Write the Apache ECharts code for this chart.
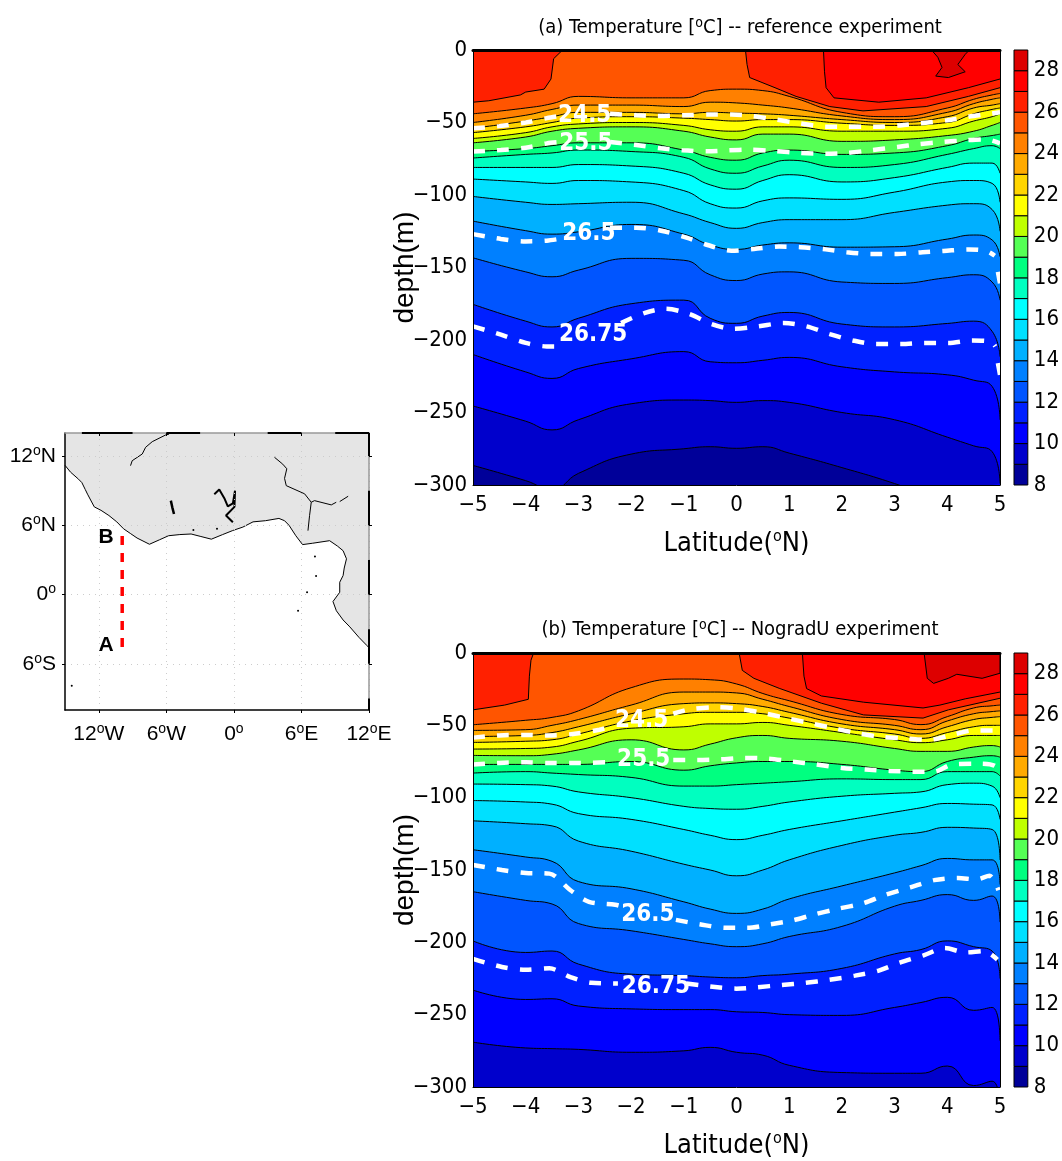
<!DOCTYPE html>
<html>
<head>
<meta charset="utf-8">
<title>Temperature sections</title>
<script src="https://cdn.jsdelivr.net/npm/echarts@6/dist/echarts.min.js"></script>
<style>
html, body { margin: 0; padding: 0; background: #fff; }
#chart { width: 1062px; height: 1161px; }
</style>
</head>
<body>
<div id="chart"></div>
<script>
// colour of each 1 degree band, 8-9 up to 28-29
const bandColors = ['#000099', '#0000cc', '#0000ff', '#0020ff', '#0055ff', '#0080ff', '#00b0ff', '#00e0ff', '#00ffff', '#00ffc0', '#00ff80',
  '#55ff55', '#bfff00', '#ffff00', '#ffd500', '#ffaa00', '#ff8000', '#ff5500', '#ff2000', '#ff0000', '#dd0000']
const latTicks = [-5, -4, -3, -2, -1, 0, 1, 2, 3, 4, 5]

// panel (a): isotherm depth (m) at each latitude
const latsA = [-5, -4, -3.5, -3, -2, -1, -0.5, 0, 0.5, 1, 2, 3, 4, 4.5, 4.85, 5]
const a25 = [-44, -40, -37, -32, -33, -33, -28, -27, -28, -32, -43, -46, -40, -34, -31, -30]
const a24 = [-50, -45, -41, -38, -38, -39, -36, -36.5, -38, -40, -45.5, -48, -43, -37, -34, -33]
const a23 = [-54, -49, -46, -43, -43, -44, -43, -43.5, -44, -45, -48, -50, -46, -40, -38, -37]
const a22 = [-57, -53, -50, -47, -46, -47, -48, -49, -48, -48, -50.5, -52, -50, -44, -41, -40]
const a21 = [-61, -57, -53, -51, -50, -52, -55, -56, -53, -53, -56, -56, -54, -49, -46, -44]
const a20 = [-64, -60, -56, -54, -53, -56, -60, -62, -58, -58, -63, -62, -59, -56, -52, -50]
const a19 = [-70, -68, -66, -64, -64, -69, -74, -76, -71, -69, -72, -71, -66, -61, -59, -58]
const a18 = [-74.5, -72, -71, -69, -70, -74, -82, -85, -80, -76, -81, -79, -72, -68, -66, -68]
const a17 = [-81, -81, -81, -79, -80, -85, -93, -96, -90, -86, -91, -88, -81, -78, -78, -85]
const a16 = [-89, -91, -92, -90, -91, -97, -106, -109, -104, -102, -103, -98, -91, -90, -92, -105]
const a15 = [-101, -105, -106.5, -106, -105, -113, -119, -123, -119, -117, -117, -112, -107, -106, -110, -125]
const a14 = [-118, -124.6, -127, -125.4, -120.3, -127, -134.5, -137.5, -134.5, -133, -136, -135.7, -130.4, -127.6, -131, -142.6]
const a13 = [-143.3, -153, -156.4, -151.8, -143.7, -145, -155, -159, -154.5, -153, -160, -161, -157, -155, -160, -172.5]
const a12 = [-175.4, -187, -191, -185, -175, -172.5, -185, -188.5, -183.5, -181, -189, -191, -188.6, -187, -194, -211.5]
const a11 = [-210, -222, -226.5, -219.7, -213, -208, -215, -215.7, -214, -212, -218.5, -222, -224, -227.7, -232, -255]
const a10 = [-245.5, -256, -262, -255, -244, -241.4, -241.8, -243, -241.8, -243, -250, -255, -267, -273, -277, -299]
const a9 = [-286.5, -297, -303, -292, -278.7, -275, -273.6, -274.7, -273.6, -278, -288, -299, -312, -320, -325, -330]
// these reach the surface, so they carry their own latitudes
const a27 = [[-5, 0], [1.65, 0], [1.67, -15], [1.7, -26], [1.85, -33], [2.7, -36], [3.6, -33], [4.4, -26], [5, -20]]
const a26 = [[-5, -36], [-4.7, -35], [-4.1, -31], [-4, -29], [-3.65, -27], [-3.52, -20], [-3.47, -6], [-3.3, 0], [0.17, 0], [0.2, -10], [0.25, -19],
  [0.73, -26], [1.13, -32], [1.77, -39], [2.4, -42], [3.6, -39], [4.4, -32], [5, -26]]
const a28patch = [[3.7, 0], [3.82, -5], [3.9, -12], [3.78, -18], [4.02, -19], [4.34, -15], [4.2, -10], [4.34, -3], [4.42, 0]]

// panel (a): white density contours, null leaves the gap under the label
const a245 = [[-5, -54], [-4.5, -52.5], [-4, -50], [-3.6, -47], [-3.35, -45.5], null, [-2.4, -44], [-1.9, -45], [-1.5, -45.5], [-1, -45], [-0.5, -44.5], [-0.1, -44.5],
  [0.3, -45.5], [0.75, -48], [1.2, -50.5], [1.7, -53], [2.1, -53], [2.6, -53], [3.1, -52], [3.5, -50.5], [4, -48.5], [4.4, -46], [4.8, -44], [5, -43]]
const a255 = [[-5, -70], [-4.47, -69], [-4, -67.4], [-3.6, -64.4], [-3.35, -63.5], null, [-2.4, -63.4], [-1.9, -65.5], [-1.43, -67.8], [-1.03, -69.2], [-0.55, -69.9], [-0.15, -69.2],
  [0.25, -68.7], [0.73, -69.7], [1.21, -71], [1.69, -71.5], [2.09, -71], [2.57, -69], [3.05, -66.9], [3.45, -65], [3.93, -63.4], [4.33, -62.3], [4.74, -61.6], [5, -64.4]]
const a265 = [[-5, -127], [-4.47, -130.3], [-4, -132], [-3.6, -131.5], [-3.3, -129.9], null, [-2.4, -122.5], [-1.9, -122.5], [-1.43, -124.6], [-0.95, -129.4], [-0.55, -134.5], [-0.1, -138.4],
  [0.33, -137.3], [0.81, -135.6], [1.21, -136], [1.69, -137.5], [2.09, -139.5], [2.57, -140.7], [3.05, -140.7], [3.53, -139.5], [3.93, -138.6], [4.41, -137.5], [4.74, -138.6], [4.9, -141.9], null, [4.96, -153], [5, -161]]
const a2675 = [[-5, -190.6], [-4.47, -196.3], [-4, -202], [-3.6, -204.4], [-3.31, -204.4], null, [-2.19, -188.3], [-1.75, -181.4], [-1.35, -178.5], [-0.91, -181.9], [-0.47, -189], [-0.07, -192.3],
  [0.41, -190.6], [0.89, -188.3], [1.33, -190.6], [1.77, -195.9], [2.21, -200.3], [2.65, -202.8], [3.13, -202.8], [3.57, -202], [4.02, -202], [4.46, -200.3], [4.82, -201], [4.91, -204.4], null, [4.96, -215.9], [5, -224]]
const aLabels = [[-2.88, -45.5, '24.5'], [-2.86, -65, '25.5'], [-2.8, -127, '26.5'], [-2.72, -196.6, '26.75']]

// panel (b)
const latsB = [-5, -4, -3.5, -3, -2, -1, -0.5, 0, 0.5, 1, 2, 3, 3.5, 4, 4.5, 4.85, 5]
const b25 = [-49.6, -46.5, -44.5, -40, -24, -18, -18.5, -21.4, -28, -33, -42.5, -46, -49.5, -44, -38, -36.5, -36]
const b24 = [-53.5, -53, -50, -46, -36, -27, -27, -27.6, -32, -37, -46, -50, -53, -47, -42, -40.5, -40]
const b23 = [-57.7, -57, -55, -51, -42, -35, -34.5, -35, -37, -41, -49, -53, -56, -51, -46, -44.5, -44]
const b22 = [-61.8, -61, -60, -56, -47, -42, -41, -41, -42, -45, -52, -56, -59, -55, -51, -50, -50]
const b21 = [-66.4, -66, -65, -61, -52, -51, -49, -49, -48, -50, -55, -60, -62, -60, -57, -57, -57]
const b20 = [-70.8, -71, -70, -67, -60, -67, -63, -58.6, -57, -59, -61, -66, -68, -68, -65, -64, -65]
const b19 = [-77, -77, -77, -77, -75, -81, -78, -76, -75, -75, -77, -81, -82, -75, -72, -71, -72]
const b18 = [-83, -82, -83, -84, -86, -92, -92, -91, -90, -89, -87, -87.5, -87.5, -82, -82, -82, -85]
const b17 = [-90.6, -91, -92, -96, -100, -106, -107.5, -108, -106, -103, -99, -97, -96, -91, -90, -92, -100]
const b16 = [-102, -103, -104.5, -111, -115, -122, -126, -129, -126, -122, -116, -110, -107, -104, -104.5, -105, -115]
const b15 = [-116, -118, -119.5, -130, -137, -146, -150, -154, -150, -143, -133, -126, -124, -120.5, -121, -122, -143]
const b14 = [-136, -141, -144, -158, -163, -172, -177, -180, -177, -170, -161, -152, -147, -142, -143, -143, -160]
const b13 = [-165, -171, -173.5, -187, -192, -198, -201, -203, -201, -196, -189, -175, -171, -167, -171, -168, -186]
const b12 = [-199, -207, -206, -215, -222, -223, -224, -224.5, -223, -222, -218, -208, -205, -199, -203, -206, -225]
const b11 = [-233, -239.5, -239, -244, -246, -246.5, -246.5, -248, -248.5, -250, -250.5, -245, -241.6, -238, -247, -245, -268]
const b10 = [-269, -273, -273.5, -274, -276, -275, -272.6, -276, -278, -285, -290, -290.5, -290.5, -285.5, -299, -296, -315]
const b27 = [[-5, 0], [1.25, 0], [1.28, -16], [1.33, -24.6], [1.61, -29.7], [2.41, -34], [3.54, -38], [3.86, -36], [4.34, -31.7], [5, -27]]
const b26 = [[-5, -39.3], [-4.4, -36], [-3.95, -32], [-3.93, -16], [-3.9, -5], [-3.85, 0], [0.05, 0], [0.11, -12], [0.33, -17.5], [0.81, -24.4], [1.61, -34.7],
  [2.41, -42.8], [3.54, -45], [4.02, -39.3], [5, -31.3]]
const b28patch = [[3.56, 0], [3.62, -17.5], [3.74, -21], [4.02, -17.5], [4.18, -14.7], [4.66, -17.5], [5, -14], [5, 0]]

const b245 = [[-5, -58.5], [-4.5, -57], [-4, -56.6], [-3.6, -57], [-3.1, -56], [-2.6, -53], [-2.35, -50.5], null, [-1.2, -42], [-0.9, -39], [-0.4, -37.5], [0.05, -38.5],
  [0.5, -41.5], [0.95, -45], [1.4, -48.5], [1.85, -52], [2.3, -55.5], [2.75, -58], [3.2, -59], [3.65, -60], [4.05, -57], [4.5, -53.5], [5, -53.5]]
const b255 = [[-5, -77], [-4.5, -76], [-4, -75.5], [-3.55, -76], [-3, -76], [-2.45, -75.5], null, [-1.2, -74], [-0.75, -74], [-0.3, -73.5], [0.15, -72.5], [0.6, -73], [1.05, -75], [1.5, -77],
  [2, -79.5], [2.45, -80.5], [2.9, -81.5], [3.35, -82], [3.75, -82], [4.1, -77], [4.6, -76.5], [4.9, -78], [5, -84]]
const b265 = [[-5, -146.5], [-4.45, -150], [-4, -152], [-3.55, -152.5], [-3.15, -164], [-2.8, -172], [-2.3, -174], [-2.1, -176], null, [-1.15, -184.5], [-0.7, -187.5], [-0.2, -190], [0.2, -190],
  [0.65, -187.5], [1.05, -185], [1.45, -181], [1.9, -177], [2.4, -173], [2.8, -167.5], [3.3, -162], [3.75, -157], [4.2, -155.5], [4.55, -156.5], [4.8, -154], [4.97, -164], null, [5, -176]]
const b2675 = [[-5, -211.5], [-4.45, -217], [-4, -219], [-3.55, -218], [-3.15, -224], [-2.75, -228], [-2.25, -228.5], null, [-0.95, -228.5], [-0.5, -230.5], [0, -232], [0.4, -231], [0.85, -229.5], [1.3, -228],
  [1.75, -226], [2.25, -223], [2.7, -219.5], [3.1, -214], [3.55, -209], [3.95, -204], [4.35, -207], [4.7, -206], [4.95, -212], null, [5, -229]]
const bLabels = [[-1.8, -47, '24.5'], [-1.76, -74, '25.5'], [-1.68, -181, '26.5'], [-1.53, -231, '26.75']]

// map inset, lon/lat in degrees
const mapLonTicks = [-12, -6, 0, 6, 12]
const mapLatTicks = [-6, 0, 6, 12]
const coast = [[-15, 11.2], [-14.9, 11.1], [-14.5, 10.6], [-13.8, 10], [-13.5, 9.7], [-13.2, 9.1], [-13, 8.7], [-12.4, 7.6], [-11.8, 7.3], [-11.1, 6.85], [-10.4, 6.3], [-9.8, 5.7], [-9.2, 5.3], [-8.6, 4.9], [-7.5, 4.36],
  [-6.6, 4.75], [-5.8, 5.1], [-4.8, 5.2], [-3.8, 5.25], [-3, 5.05], [-2, 4.8], [-1, 5.2], [-0.1, 5.55], [0.8, 5.85], [1.7, 6.3], [2.8, 6.4], [4, 6.6], [4.5, 6.4], [4.9, 6], [5.5, 5.1],
  [6.1, 4.33], [7, 4.45], [8.5, 4.67], [9.2, 4.2], [9.7, 3.8], [10, 3.1], [9.8, 2.3], [9.7, 1.65], [9.4, 1.07], [9.4, 0.2], [8.8, -0.6], [9.1, -1.4], [9.7, -2.2], [10.3, -2.8], [11.1, -3.7], [11.8, -4.4], [12, -4.6]]
const landCorners = [[12, 14], [-15, 14]]
const riverNigerUp = [[-9.18, 11.17], [-9.03, 11.6], [-8.14, 12.18], [-7.84, 12.76], [-7.25, 13.25], [-6.06, 13.83], [-5.76, 13.9]]
const riverNiger = [[3.6, 11.9], [4.34, 11.3], [4.7, 10.9], [4.5, 10.07], [4.65, 9.44], [6.28, 8.73], [6.87, 8], [6.72, 6.84], [6.58, 5.54]]
const riverBenue = [[6.87, 8], [7.16, 8.14], [8.65, 7.77], [9.09, 8]]
const riverBenueUp = [[9.4, 8.06], [10.15, 8.52]]
const lakeVolta = [[-1.74, 8.7], [-1.3, 9.1], [-0.85, 8.35], [-0.54, 7.65], [-0.09, 7.9], [0.1, 9], [0.05, 7.6], [-0.7, 6.85], [-0.09, 6.27]]
const lakeKossou = [[-5.6, 8.14], [-5.47, 7.56], [-5.32, 6.98]]
const islands = [[-14.4, -7.9], [7.2, 3.3], [6.5, 0.2], [7.3, 1.6], [5.7, -1.4], [-1.5, 5.7], [-3.6, 5.6]]
const frameTop = [[-13.5, 14], [-9, 14], null, [-6, 14], [-3, 14], null, [3, 14], [6, 14], null, [9, 14], [12, 14]]
const frameRight = [[12, 14], [12, 12], null, [12, 9], [12, 6], null, [12, 3], [12, 0], null, [12, -3], [12, -6], null, [12, -9], [12, -10]]
const sectionLine = [[-9.92, 5.08], [-9.92, -5]]
const sectionLabels = [[-9.92, 5, 'B'], [-9.92, -4.4, 'A']]

const narrow = '"DejaVu Sans Condensed", "Liberation Sans", sans-serif'
const wide = '"Liberation Sans", sans-serif'
const sup = { fontSize: 14, verticalAlign: 'top', lineHeight: 24 }

function rowPoints(lats, row) {
  return lats.map((x, i) => [x, row[i]])
}

function gapped(line) {
  return line.map(p => p || [null, null])
}

function minus(v) {
  return String(v).replace('-', '\u2212')
}

const option = {
  animation: false,
  backgroundColor: '#fff',
  title: [
    { text: '(a) Temperature [{s|o}C] -- reference experiment', left: 735, top: 11, textAlign: 'center',
      textStyle: { fontFamily: narrow, fontSize: 20, fontWeight: 'normal', color: '#000', rich: { s: sup } } },
    { text: '(b) Temperature [{s|o}C] -- NogradU experiment', left: 735, top: 613, textAlign: 'center',
      textStyle: { fontFamily: narrow, fontSize: 20, fontWeight: 'normal', color: '#000', rich: { s: sup } } }
  ],
  grid: [
    { left: 473, top: 50, width: 527, height: 435, backgroundColor: bandColors[19], show: true, borderWidth: 0 },
    { left: 473, top: 653, width: 527, height: 434, backgroundColor: bandColors[19], show: true, borderWidth: 0 },
    { left: 1014, top: 50, width: 17, height: 435 },
    { left: 1014, top: 653, width: 17, height: 434 },
    { left: 65, top: 433, width: 304, height: 277 }
  ],
  xAxis: [],
  yAxis: [],
  series: []
}

function addPanel(gridIndex, rows, lats, paths, patch, densLines, labels) {
  const xi = option.xAxis.length
  const yi = option.yAxis.length
  option.xAxis.push({
    gridIndex, type: 'value', min: -5, max: 5, interval: 1, z: 5,
    axisLine: { onZero: false, lineStyle: { color: '#000', width: 1 } },
    axisTick: { show: false }, splitLine: { show: false },
    axisLabel: { customValues: latTicks, fontFamily: narrow, fontSize: 22, color: '#000', margin: 9, formatter: minus },
    name: 'Latitude({s|o}N)', nameLocation: 'middle', nameGap: 44, nameMoveOverlap: false,
    nameTextStyle: { fontFamily: narrow, fontSize: 27, color: '#000', rich: { s: { fontSize: 16, verticalAlign: 'top', lineHeight: 30 } } }
  }, {
    gridIndex, type: 'value', min: -5, max: 5, position: 'top', z: 5,
    axisLine: { onZero: false, lineStyle: { color: '#000', width: 3 } },
    axisTick: { show: false }, axisLabel: { show: false }, splitLine: { show: false }
  })
  option.yAxis.push({
    gridIndex, type: 'value', min: -300, max: 0, interval: 50, z: 5,
    axisLine: { onZero: false, lineStyle: { color: '#000', width: 1 } },
    axisTick: { show: false }, splitLine: { show: false },
    axisLabel: { fontFamily: narrow, fontSize: 22, color: '#000', margin: 6, formatter: minus },
    name: 'depth(m)', nameLocation: 'middle', nameGap: 54, nameRotate: 90, nameMoveOverlap: false,
    nameTextStyle: { fontFamily: wide, fontSize: 28, color: '#000' }
  }, {
    gridIndex, type: 'value', min: -300, max: 0, position: 'right', z: 5,
    axisLine: { onZero: false, lineStyle: { color: '#000', width: 1 } },
    axisTick: { show: false }, axisLabel: { show: false }, splitLine: { show: false }
  })

  // warmest first, each isotherm paints its band all the way down
  paths.concat(rows.map(r => [r[0], rowPoints(lats, r[1]), true])).forEach(p => {
    option.series.push({
      type: 'line', xAxisIndex: xi, yAxisIndex: yi, data: p[1], showSymbol: false, silent: true,
      smooth: p[2] ? 0.5 : false,
      lineStyle: { color: '#000', width: 1 },
      areaStyle: { color: bandColors[p[0] - 9], opacity: 1, origin: 'start' }
    })
  })
  option.series.push({
    type: 'custom', xAxisIndex: xi, yAxisIndex: yi, data: [0], silent: true, z: 3,
    renderItem: (params, api) => ({
      type: 'polygon',
      shape: { points: patch.map(pt => api.coord(pt)) },
      style: { fill: bandColors[20], stroke: '#000', lineWidth: 1 }
    })
  })
  densLines.forEach(line => {
    option.series.push({
      type: 'line', xAxisIndex: xi, yAxisIndex: yi, data: gapped(line), showSymbol: false, silent: true, z: 4, smooth: 0.3,
      lineStyle: { color: '#fff', width: 4.5, type: [12, 12] }
    })
  })
  option.series.push({
    type: 'scatter', xAxisIndex: xi, yAxisIndex: yi, data: labels, symbolSize: 1, silent: true, z: 4,
    itemStyle: { color: 'transparent', opacity: 1 },
    label: { show: true, position: 'inside', formatter: p => p.value[2], fontFamily: narrow, fontWeight: 'bold', fontSize: 24, color: '#fff' }
  })
}

function addColorbar(gridIndex) {
  const xi = option.xAxis.length
  const yi = option.yAxis.length
  option.xAxis.push({ gridIndex, type: 'value', min: 0, max: 1, show: false })
  option.yAxis.push({
    gridIndex, type: 'value', min: 8, max: 29, interval: 2, position: 'right',
    axisLine: { show: false }, axisTick: { show: false }, splitLine: { show: false },
    axisLabel: { fontFamily: narrow, fontSize: 22, color: '#000', margin: 6 }
  })
  option.series.push({
    type: 'custom', xAxisIndex: xi, yAxisIndex: yi, silent: true,
    data: bandColors.map((c, i) => [8 + i]),
    renderItem: (params, api) => {
      const t = api.value(0)
      const a = api.coord([0, t + 1])
      const b = api.coord([1, t])
      return {
        type: 'rect',
        shape: { x: a[0], y: a[1], width: b[0] - a[0], height: b[1] - a[1] },
        style: { fill: bandColors[t - 8], stroke: '#000', lineWidth: 1 }
      }
    }
  })
}

function lonLabel(v) {
  return v === 0 ? '0{s|o}' : Math.abs(v) + '{s|o}' + (v < 0 ? 'W' : 'E')
}

function latLabel(v) {
  return v === 0 ? '0{s|o}' : Math.abs(v) + '{s|o}' + (v < 0 ? 'S' : 'N')
}

function addMap(gridIndex) {
  const xi = option.xAxis.length
  const yi = option.yAxis.length
  const frame = { onZero: false, lineStyle: { color: '#000', width: 1.5 } }
  const rich = { s: { fontSize: 14, verticalAlign: 'top', lineHeight: 24 } }
  option.xAxis.push({
    gridIndex, type: 'value', min: -15, max: 12, z: 5, axisLine: frame, splitLine: { show: false },
    axisTick: { customValues: mapLonTicks, length: 3, inside: false, lineStyle: { color: '#000' } },
    axisLabel: { customValues: mapLonTicks, formatter: lonLabel, fontFamily: wide, fontSize: 21, color: '#000', margin: 12, rich }
  }, {
    gridIndex, type: 'value', min: -15, max: 12, position: 'top', z: 5,
    axisLine: { onZero: false, lineStyle: { color: '#999', width: 1.5 } },
    axisTick: { customValues: mapLonTicks, length: 3, inside: true, lineStyle: { color: '#000' } },
    axisLabel: { show: false }, splitLine: { show: false }
  })
  option.yAxis.push({
    gridIndex, type: 'value', min: -10, max: 14, z: 5, axisLine: frame, splitLine: { show: false },
    axisTick: { customValues: mapLatTicks, length: 3, lineStyle: { color: '#000' } },
    axisLabel: { customValues: mapLatTicks, formatter: latLabel, fontFamily: wide, fontSize: 21, color: '#000', margin: 9, rich }
  }, {
    gridIndex, type: 'value', min: -10, max: 14, position: 'right', z: 5,
    axisLine: { onZero: false, lineStyle: { color: '#999', width: 1.5 } },
    axisTick: { customValues: mapLatTicks, length: 3, lineStyle: { color: '#000' } },
    axisLabel: { show: false }, splitLine: { show: false }
  })

  option.series.push({
    type: 'custom', xAxisIndex: xi, yAxisIndex: yi, data: [0], silent: true, z: 1,
    renderItem: (params, api) => ({
      type: 'polygon',
      shape: { points: coast.concat(landCorners).map(pt => api.coord(pt)) },
      style: { fill: '#e5e5e5' }
    })
  })
  option.series.push({
    type: 'line', xAxisIndex: xi, yAxisIndex: yi, data: [], showSymbol: false, silent: true, z: 2,
    markLine: {
      silent: true, symbol: 'none', label: { show: false },
      lineStyle: { color: '#ccc', type: [1, 5], width: 1 },
      data: mapLonTicks.map(v => ({ xAxis: v })).concat(mapLatTicks.map(v => ({ yAxis: v })))
    }
  })
  const blackLine = (data, width) => ({
    type: 'line', xAxisIndex: xi, yAxisIndex: yi, data, showSymbol: false, silent: true, z: 3, clip: false,
    lineStyle: { color: '#000', width }
  })
  option.series.push(blackLine(coast, 1), blackLine(riverNigerUp, 1), blackLine(riverNiger, 1), blackLine(riverBenue, 1),
    blackLine(riverBenueUp, 1), blackLine(lakeVolta, 2), blackLine(lakeKossou, 2.5))
  const frameTopSeries = blackLine(gapped(frameTop), 2)
  const frameRightSeries = blackLine(gapped(frameRight), 2)
  frameTopSeries.z = 6
  frameRightSeries.z = 6
  option.series.push(frameTopSeries, frameRightSeries)
  option.series.push({
    type: 'scatter', xAxisIndex: xi, yAxisIndex: yi, data: islands, symbolSize: 2, silent: true, z: 3,
    itemStyle: { color: '#000', opacity: 1 }
  })
  option.series.push({
    type: 'line', xAxisIndex: xi, yAxisIndex: yi, data: sectionLine, showSymbol: false, silent: true, z: 4,
    lineStyle: { color: '#ff0000', width: 3.5, type: [9, 8] }
  })
  option.series.push({
    type: 'scatter', xAxisIndex: xi, yAxisIndex: yi, data: sectionLabels, symbolSize: 1, silent: true, z: 4,
    itemStyle: { color: 'transparent', opacity: 1 },
    label: { show: true, position: 'left', distance: 8, formatter: p => p.value[2], fontFamily: wide, fontWeight: 'bold', fontSize: 21, color: '#000' }
  })
}

addPanel(0,
  [[25, a25], [24, a24], [23, a23], [22, a22], [21, a21], [20, a20], [19, a19], [18, a18], [17, a17], [16, a16], [15, a15], [14, a14], [13, a13], [12, a12], [11, a11], [10, a10], [9, a9]],
  latsA, [[27, a27], [26, a26]], a28patch, [a245, a255, a265, a2675], aLabels)
addPanel(1,
  [[25, b25], [24, b24], [23, b23], [22, b22], [21, b21], [20, b20], [19, b19], [18, b18], [17, b17], [16, b16], [15, b15], [14, b14], [13, b13], [12, b12], [11, b11], [10, b10]],
  latsB, [[27, b27], [26, b26]], b28patch, [b245, b255, b265, b2675], bLabels)
addColorbar(2)
addColorbar(3)
addMap(4)

echarts.init(document.getElementById('chart'), null, { renderer: 'canvas' }).setOption(option)
</script>
</body>
</html>
